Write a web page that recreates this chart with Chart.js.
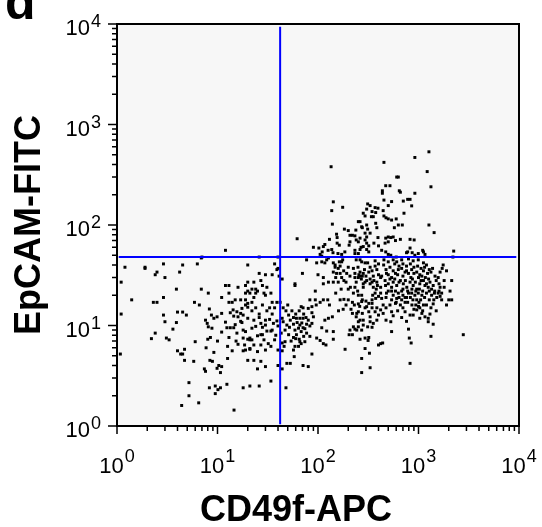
<!DOCTYPE html>
<html>
<head>
<meta charset="utf-8">
<script src="https://cdn.jsdelivr.net/npm/chart.js@4.4.1/dist/chart.umd.min.js"></script>
<style>
  html, body { margin: 0; padding: 0; background: #fff; }
  #wrap { width: 542px; height: 527px; }
</style>
</head>
<body>
<div id="wrap"><canvas id="facsChart" width="542" height="527"></canvas></div>
<script>
const panelLabel = 'd';
const xTitle = 'CD49f-APC';
const yTitle = 'EpCAM-FITC';

const axisMin = 1;
const axisMax = 10000;
const decades = [1, 10, 100, 1000, 10000];
const decadeExponents = ['0', '1', '2', '3', '4'];
const minorSteps = [2, 3, 4, 5, 6, 7, 8, 9];

// quadrant gate
const gateX = 42;
const gateY = 48;
const gateSpan = [1.04, 9400];

// events: [CD49f-APC, EpCAM-FITC]
const cellEvents = [
    [1.2,38],[1.9,38],[1.9,37],[2.9,41],[4.5,40],[6.3,41],[6.9,47],[12,56],[20,40],[2.5,34],
    [2.4,32],[3.0,30],[4.2,34],[1.1,27],[3.9,23],[6.9,23],[8.1,21],[2.9,19],[1.4,18],[2.3,17],
    [2.5,17],[5.9,17],[6.6,16],[11,19],[12,25],[13,25],[16,24],[19,25],[20,27],[13,21],
    [20,22],[21,21],[13,17],[14,17],[15,18],[17,18],[19,18],[20,16.6],[1.1,13],[2.9,12.7],
    [4.0,13.6],[4.5,13.6],[4.9,12.7],[8.3,14.6],[8.7,12.7],[9.2,11.8],[9.9,12.2],[11,13.2],[7.6,11.3],[7.9,10.5],
    [8.1,9.7],[8.8,9.4],[13.4,13.4],[14.3,14.3],[15.6,13.7],[17,13.2],[18,12.7],[16,12.2],[14.5,12.4],[17.5,14.8],
    [20,15.2],[3.0,10.9],[3.9,10.7],[3.6,9.2],[2.4,8.4],[2.2,7.4],[3.1,7.5],[3.3,7.2],[12.4,9.5],[13.4,9.5],
    [14.5,9.5],[15.6,8.4],[18,9.0],[17.5,10.7],[13,7.6],[15.3,7.0],[18,7.5],[20,7.3],[21,7.2],[6.0,6.9],
    [8.0,7.3],[8.5,7.6],[7.7,6.0],[12.6,6.2],[18.6,6.4],[18,5.6],[21,5.8],[4.0,5.6],[4.3,5.2],[4.5,5.2],
    [4.7,5.8],[4.7,4.5],[5.8,4.4],[9.2,5.4],[8.4,4.5],[8.9,4.4],[10.3,4.0],[11,3.9],[9.9,3.75],[10.7,3.4],
    [7.4,3.7],[7.6,3.5],[12.6,4.7],[20,4.5],[1.08,5.2],[5.2,2.7],[5.2,2.0],[4.4,1.6],[6.5,1.7],[8.3,2.4],
    [9.5,2.5],[10.7,2.4],[10.1,2.3],[9.5,2.1],[12.4,2.6],[18,2.4],[21,2.5],[14.6,1.44],
    [62,73],[7.0,48],[26,48],[40,48],[26,33],[30,32],[35,32],[37,41],[39,36],[40,37],
    [41,31],[44,29],[70,33],[97,42],[100,32],[90,60],[102,59],[105,51],[24,23],[27,28],
    [28,25],[31,24],[59,26],[59,25],
    [117,42],[127,47],[109,49],[148,40],[153,33],[172,43],[113,26],[127,27],[159,27],[181,28],
    [233,30],[262,34],[276,31],[282,26],[23,27],[19,21],[22,23],[24,21],[25,22],[23,19],
    [29,21],[30,20],[34,21],[35,17],[39,17],[19,16],[22,14],[33,15],[48,14],[51,12.7],
    [83,18],[94,22],[96,16],[105,17],[113,18],[125,18],[71,15],[80,14.8],[87,13.4],[90,12.2],
    [117,11.3],[127,11.8],[139,12.2],[166,18],[181,18.2],[178,14.5],[200,18],[225,21],[248,22],[272,20],
    [276,18],[213,14.5],[243,13.2],[276,13.2],[20,11.8],[23,11.3],[27,10.5],[30,11.3],[30,10.1],[39,11.1],
    [40,9.9],[44,11.8],[45,10.9],[49,10.1],[53,11.3],[57,10.3],[61,11.8],[66,11.8],[59,9.0],[64,9.4],
    [68,8.7],[71,9.5],[77,10.3],[83,9.9],[51,8.1],[57,7.6],[61,8.1],[65,7.3],[31,8.8],[34,8.8],
    [35,9.0],[28,8.1],[27,8.1],[25,7.9],[19,8.7],[21,7.5],[22,7.2],[29,7.2],[32,6.6],[37,7.2],
    [47,6.9],[46,6.2],[44,5.6],[59,6.2],[64,6.2],[57,5.7],[74,6.9],[97,7.5],[105,7.1],[113,6.6],
    [120,6.4],[109,9.5],[122,8.8],[142,8.7],[142,7.3],[186,5.8],[208,9.0],[220,8.1],[252,9.7],[272,9.0],
    [262,7.3],[19,5.7],[21,5.9],[23,6.4],[25,5.5],[27,6.4],[30,5.7],[34,6.2],[23,4.5],[27,4.4],
    [25,3.7],[30,3.9],[40,4.0],[44,3.7],[49,4.2],[53,4.2],[58,4.9],[71,4.0],[80,3.9],[87,5.2],
    [272,4.7],[272,3.4],[34,2.8],[26,2.5],[48,2.4],[40,5.7],[44,6.7],
    [110,54],[126,56],[141,53],[158,52],[172,51],[185,54],[233,52],
    [142,170],[176,150],[137,139],[282,131],[294,123],[139,102],[183,91],[200,88],[262,108],[272,96],
    [153,81],[155,75],[208,79],[220,79],[233,78],[294,83],[305,76],[262,74],[252,68],[208,68],
    [204,63],[130,72],[155,66],[163,63],[117,64],[113,61],[137,57],[233,56],[262,57],[282,61],
    [305,66],[252,52],[77,45],[122,45],[142,42],[163,43],[176,45],[148,38],[166,39],[262,45],[294,42],
    [1270,535],[920,470],[453,420],[1220,340],[607,300],[630,300],[1330,240],[472,246],[520,246],[437,219],
    [437,207],[644,219],[660,212],[920,207],[453,177],[540,171],[706,173],[780,180],[824,180],[500,156],
    [855,155],[312,162],[330,156],[370,149],[395,147],[305,144],[345,136],[375,133],[355,121],[340,121],
    [445,139],[453,123],[475,118],[500,115],[540,112],[600,115],[717,131],[252,108],[305,100],[276,94],
    [312,91],[375,104],[385,94],[630,100],[690,100],[575,94],[1270,100],[1430,84],[238,89],[240,71],
    [294,71],[330,83],[395,75],[472,74],[500,76],[530,75],[560,76],[660,72],[824,72],[905,71],
    [465,66],[500,68],[590,70],[268,60],[320,62],[305,57],[360,66],[400,62],[430,56],[472,54],
    [824,59],[780,54],[865,53],[920,50],[995,52],[1100,56],[1120,54],[2240,55],[530,50],[600,48],
    [135,380],[2200,48],
    [320,54],[500,51],[760,53],[1160,51],
    [240,45],[272,43],[312,42],[370,44],[453,45],[500,43],[560,45],[607,43],[680,45],[795,46],
    [885,44],[995,45],[1120,42],[1200,40],[1760,40],[1720,37],[1640,34],[233,33],[255,32],[282,33],
    [320,34],[345,35],[385,36],[400,32],[430,31],[475,36],[500,32],[540,30],[590,33],[630,36],
    [680,37],[735,34],[795,33],[855,36],[960,34],[1030,32],[1120,35],[1230,33],[1330,34],[1460,31],
    [1570,30],[465,28],[500,26],[560,27],[607,25],[660,28],[706,26],[765,24],[824,27],[885,25],
    [960,23],[1030,26],[1120,28],[1200,26],[1300,27],[1400,25],[252,30],[294,27],[330,26],[355,24],
    [385,27],[420,24],[1640,24],[2140,28],[2060,22],[2140,18],[590,22],[630,21],[680,22],[735,19],
    [795,21],[855,21],[920,20],[995,21],[1080,20],[1200,21],[1350,20],[1520,19],[1700,18],[500,22],
    [475,19],[540,18],[590,16.6],[520,16],[607,18.6],[680,18],[735,17],[660,16],[370,21],[400,19.5],
    [430,18.6],[345,18],[320,16.6],[272,17.3],[233,24],[445,16],[475,15],[420,14.3],[445,13.2],[400,12.7],
    [370,13.7],[345,15],[320,13.7],[294,15],[252,13.7],[240,12.2],[262,11.3],[735,13.7],[824,12.7],[885,12.7],
    [960,14.3],[1120,16],[1160,12.2],[1250,11.8],[1400,10.3],[1080,13.2],[1400,16.4],[330,12.2],[330,10.9],[355,10.5],
    [385,11.3],[475,11.3],[530,10.9],[312,9.7],[345,9.6],[282,10.1],[233,9.2],[540,8.7],[795,9.2],[810,7.5],
    [845,6.7],[1330,7.8],[2790,8.1],[320,7.6],[315,7.1],[420,6.6],[400,6.4],[294,5.9],[330,3.8],[824,4.2],
    [1700,21],
    [66,10.1],[87,10.5],[80,11.3],[71,11.8],[68,15.4],[87,15.4],[94,18],[66,6.9],[77,8.4],[83,7.8],
    [325,5.3],[294,7.5],[440,6.7],[225,9.7],[243,9.0],[204,8.1],[252,10.9],[282,11.3],[540,13.7],[252,20],
    [252,16.4],[305,15.4],[345,16.6],[375,18.6],[420,21],[480,21],[540,22],[220,13.2],[385,15],[1030,11.8],
    [1250,10.9],[1030,15],[1640,19.5],[1570,21],[2000,18],
    [109,43],[159,37],[142,34],[166,33],[113,30],[142,27],[193,33],[208,31],[225,37],[262,31],
    [305,28],[355,31],[345,27],[420,30],[282,24],[172,30],
    [450,40],[520,38],[580,41],[640,39],[700,41],[760,39],[830,41],[900,38],[980,39],[1060,37],
    [1150,38],[1280,36],[1380,37],[480,33],[560,35],[620,32],[700,31],[760,35],[840,30],[900,33],
    [1000,30],[1080,31],[1170,30],[1260,29],[1500,28],[520,29],[580,29],[640,27],[740,28],[870,29],
    [930,27],[1060,28],[1160,25],[1250,24],[1350,23],[1450,22],[1600,26],[1800,24],[470,25],[540,24],
    [700,23],[780,22],[860,23],[940,22],[1020,23],[1100,22],[1280,22],[1440,21],[1600,22],[560,20],
    [640,19],[700,20],[760,19],[830,19],[880,18],[960,18],[1050,18],[1150,19],[1280,18],[1420,18],
    [600,17],[780,17],[860,16],[940,16],[1010,17],[1200,16],[1330,15],[700,15],[900,14.5],[1000,15.5],
    [1100,14],[620,14],[560,12.5],[680,12],[760,11],[1300,13],[1500,14],[1900,16],[1800,28],[1900,35],
    [150,30],[190,27],[210,24],[240,27],[270,29],[300,31],[330,29],[360,28],[390,25],[180,35],
    [200,38],[250,38],[290,36],[330,38],[370,39],[400,41],[220,17],[260,15.5],[300,17.5],[350,20],
    [380,23],[150,21],[170,23],[200,23],[130,16],[160,14],[190,16],[230,16],
    [22,17],[24,15],[26,13],[28,16],[31,14],[35,13],[37,15],[42,17],[45,15],[50,16],
    [55,14],[60,13],[65,14],[72,13],[76,12],[57,12],[62,10.7],[69,10.6],[74,9.3],[52,9.6],
    [47,9.0],[43,8.4],[54,7.0],[60,7.4],[68,6.6],[72,7.8],[38,8.0],[36,10.5],[33,11.5],[26,12],
    [24,9.8],[17,11],[15,10.2],[22,9.4],[28,9.6],[16,6.5],[14,5.6],[12,10.8],[11,8.6],[10,7.0]
];

const FONT = '"Liberation Sans", Arial, Helvetica, sans-serif';

const drawPower = (ctx, exp, px, baseline, align, supRaise) => {
    ctx.font = `22px ${FONT}`;
    const wBase = ctx.measureText('10').width;
    ctx.font = `18px ${FONT}`;
    const wExp = ctx.measureText(exp).width;
    const total = wBase + wExp + 1;
    const start = align === 'center' ? px - total / 2 : px - total;
    ctx.textAlign = 'left';
    ctx.font = `22px ${FONT}`;
    ctx.fillText('10', start, baseline);
    ctx.font = `18px ${FONT}`;
    ctx.fillText(exp, start + wBase + 1, baseline - supRaise);
};

const facsFrame = {
    id: 'facsFrame',
    beforeDraw(chart) {
        const { ctx, chartArea: a } = chart;
        ctx.save();
        ctx.fillStyle = '#ffffff';
        ctx.fillRect(0, 0, chart.width, chart.height);
        ctx.fillStyle = '#f7f7f7';
        ctx.fillRect(a.left, a.top, a.right - a.left, a.bottom - a.top);
        ctx.restore();
    },
    afterDraw(chart) {
        const { ctx, chartArea: a } = chart;
        const xs = chart.scales.x;
        const ys = chart.scales.y;
        ctx.save();
        ctx.strokeStyle = '#000';
        ctx.fillStyle = '#000';

        ctx.lineWidth = 2;
        ctx.strokeRect(a.left, a.top, a.right - a.left, a.bottom - a.top);

        ctx.lineWidth = 1.5;
        ctx.beginPath();
        decades.forEach((d, i) => {
            const px = xs.getPixelForValue(d);
            const py = ys.getPixelForValue(d);
            ctx.moveTo(px, a.bottom);
            ctx.lineTo(px, a.bottom + 8);
            ctx.moveTo(a.left, py);
            ctx.lineTo(a.left - 9, py);
            if (i < decades.length - 1) {
                minorSteps.forEach((m) => {
                    const mx = xs.getPixelForValue(d * m);
                    const my = ys.getPixelForValue(d * m);
                    ctx.moveTo(mx, a.bottom);
                    ctx.lineTo(mx, a.bottom + 5);
                    ctx.moveTo(a.left, my);
                    ctx.lineTo(a.left - 5, my);
                });
            }
        });
        ctx.stroke();

        ctx.textBaseline = 'alphabetic';
        decades.forEach((d, i) => {
            drawPower(ctx, decadeExponents[i], xs.getPixelForValue(d), a.bottom + 47, 'center', 11);
            drawPower(ctx, decadeExponents[i], a.left - 16, ys.getPixelForValue(d) + 11, 'right', 8);
        });

        ctx.font = `bold 36px ${FONT}`;
        ctx.textAlign = 'center';
        ctx.fillText(xTitle, 296, 521);

        ctx.save();
        ctx.translate(40, (a.top + a.bottom) / 2);
        ctx.rotate(-Math.PI / 2);
        ctx.fillText(yTitle, 0, 0);
        ctx.restore();

        ctx.font = `bold 50px ${FONT}`;
        ctx.textAlign = 'left';
        ctx.fillText(panelLabel, 5, 19);
        ctx.restore();
    },
};

const initFacsChart = () => {
    const canvas = document.getElementById('facsChart');
    if (!canvas) {
        return;
    }

    new Chart(canvas, {
        type: 'scatter',
        data: {
            datasets: [
                {
                    data: [{ x: gateX, y: gateSpan[0] }, { x: gateX, y: gateSpan[1] }],
                    showLine: true,
                    borderColor: '#0000ff',
                    borderWidth: 2,
                    pointRadius: 0,
                    order: 0,
                },
                {
                    data: [{ x: gateSpan[0], y: gateY }, { x: gateSpan[1], y: gateY }],
                    showLine: true,
                    borderColor: '#0000ff',
                    borderWidth: 2,
                    pointRadius: 0,
                    order: 0,
                },
                {
                    data: cellEvents.map(([x, y]) => ({ x, y })),
                    pointStyle: 'rect',
                    pointRadius: 2.1,
                    borderWidth: 0,
                    backgroundColor: '#000',
                    order: 1,
                },
            ],
        },
        options: {
            responsive: false,
            animation: false,
            events: [],
            layout: { padding: { left: 117, top: 24, right: 23, bottom: 101 } },
            plugins: { legend: { display: false }, tooltip: { enabled: false } },
            scales: {
                x: { type: 'logarithmic', min: axisMin, max: axisMax, display: false },
                y: { type: 'logarithmic', min: axisMin, max: axisMax, display: false },
            },
        },
        plugins: [facsFrame],
    });
};

initFacsChart();
</script>
</body>
</html>
